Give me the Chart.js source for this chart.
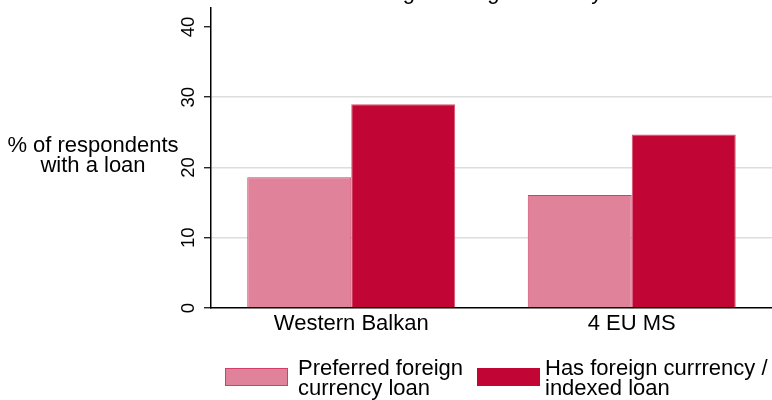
<!DOCTYPE html>
<html><head><meta charset="utf-8">
<script src="https://cdn.jsdelivr.net/npm/chart.js@4/dist/chart.umd.min.js"></script>
<style>html,body{margin:0;padding:0;background:#fff;overflow:hidden}</style>
</head><body>
<canvas id="c" width="772" height="400"></canvas>
<script>
const categories = ['Western Balkan', '4 EU MS'];
const seriesNames = [['Preferred foreign', 'currency loan'], ['Has foreign currrency /', 'indexed loan']];
const preferredForeign = [18.6, 16.1];
const hasForeign = [29.0, 24.7];
const yTicks = [0, 10, 20, 30, 40];
const yAxisTitle = ['% of respondents', 'with a loan'];
const chartTitle = 'Borrowing in foreign currency';

const FONT = '"Liberation Sans", Arial, sans-serif';
const lightFill = '#E0829A', lightBorder = '#D0406A';
const darkFill = '#C10534', darkBorder = '#D6506F';

const extras = {
  id: 'extras',
  afterDraw(chart) {
    const ctx = chart.ctx;
    ctx.save();
    ctx.fillStyle = '#000';
    // cropped title (only descenders visible)
    ctx.font = '22px ' + FONT;
    ctx.textAlign = 'left';
    ctx.textBaseline = 'alphabetic';
    ctx.fillText(chartTitle, 316, -1.5);
    // horizontal y-axis title
    ctx.textAlign = 'center';
    ctx.fillText(yAxisTitle[0], 93, 152);
    ctx.fillText(yAxisTitle[1], 93, 172);
    // legend
    const items = [
      {x: 225, tx: 298, fill: lightFill, stroke: lightBorder, text: seriesNames[0]},
      {x: 477, tx: 545, fill: darkFill, stroke: darkFill, text: seriesNames[1]}
    ];
    items.forEach(it => {
      ctx.fillStyle = it.fill;
      ctx.fillRect(it.x, 368, 63, 18);
      ctx.strokeStyle = it.stroke;
      ctx.lineWidth = 1;
      ctx.strokeRect(it.x + 0.5, 368.5, 62, 17);
      ctx.fillStyle = '#000';
      ctx.textAlign = 'left';
      ctx.fillText(it.text[0], it.tx, 375);
      ctx.fillText(it.text[1], it.tx, 395);
    });
    ctx.restore();
  }
};

new Chart(document.getElementById('c'), {
  type: 'bar',
  data: {
    labels: categories,
    datasets: [
      {label: seriesNames[0].join(' '), data: preferredForeign, backgroundColor: lightFill, borderColor: lightBorder, borderWidth: 1, barPercentage: 1, categoryPercentage: 0.7415},
      {label: seriesNames[1].join(' '), data: hasForeign, backgroundColor: darkFill, borderColor: darkBorder, borderWidth: 1, barPercentage: 1, categoryPercentage: 0.7415}
    ]
  },
  options: {
    responsive: false,
    animation: false,
    devicePixelRatio: 1,
    layout: {padding: {top: 8, left: 0, right: 0, bottom: 62}},
    plugins: {legend: {display: false}, title: {display: false}, tooltip: {enabled: false}},
    scales: {
      x: {
        type: 'category',
        offset: true,
        grid: {display: false, drawTicks: false},
        border: {display: true, color: '#000', width: 1.5},
        ticks: {color: '#000', font: {family: FONT, size: 22}, padding: 3, maxRotation: 0, minRotation: 0},
        afterFit(s) { s.height = 30; s.paddingLeft = 0; s.paddingRight = 0; }
      },
      y: {
        min: 0,
        max: 42.7,
        afterBuildTicks(s) { s.ticks = yTicks.map(v => ({value: v})); },
        ticks: {color: '#000', font: {family: FONT, size: 18.5}, minRotation: 90, maxRotation: 90, crossAlign: 'center', padding: 5},
        grid: {
          color: c => (c.tick && c.tick.value > 0 && c.tick.value < 40) ? '#DDDDDD' : 'rgba(0,0,0,0)',
          lineWidth: 1.5,
          drawTicks: true,
          tickLength: 7,
          tickColor: '#000',
          tickWidth: 1.2
        },
        border: {display: true, color: '#000', width: 1.5},
        afterFit(s) { s.width = 211; s.paddingTop = 0; s.paddingBottom = 0; }
      }
    }
  },
  plugins: [extras]
});
</script>
</body></html>
